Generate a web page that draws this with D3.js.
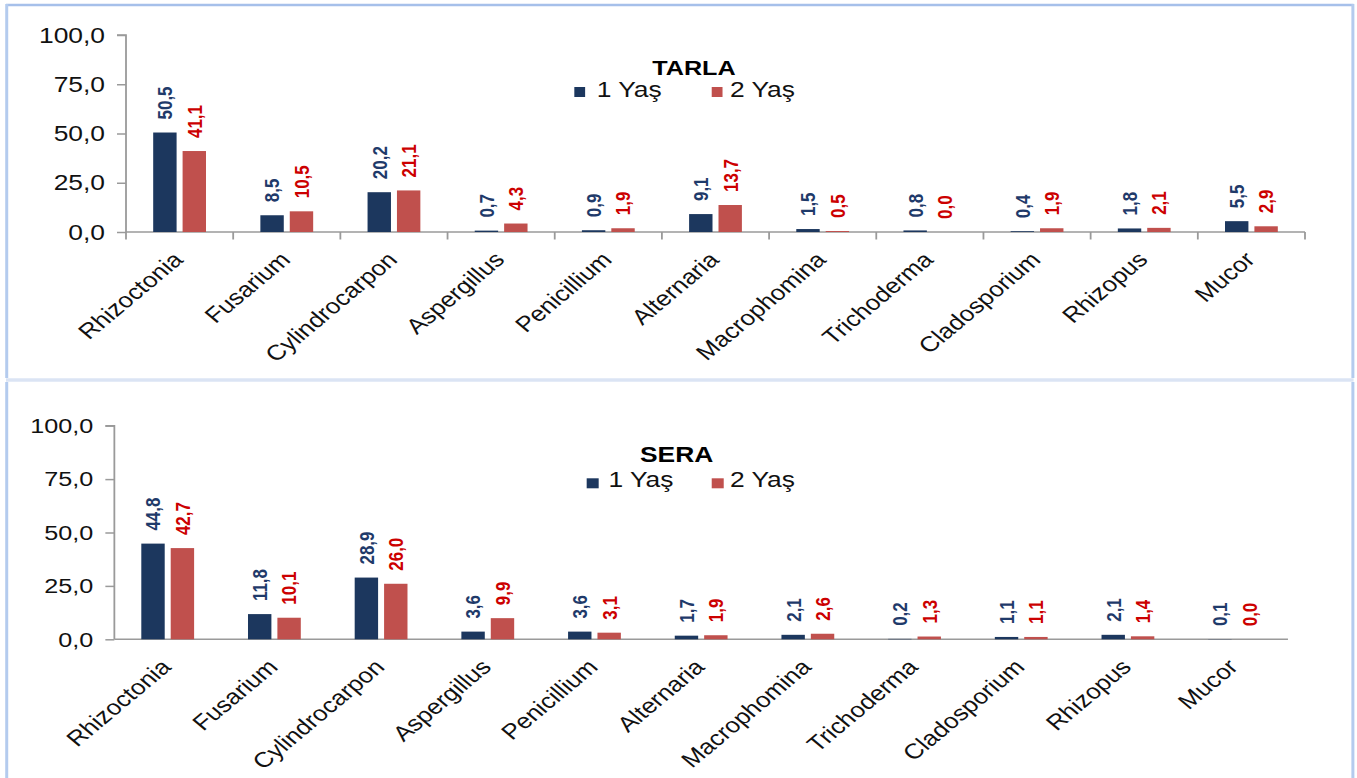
<!DOCTYPE html>
<html>
<head>
<meta charset="utf-8">
<script src="https://cdn.jsdelivr.net/npm/d3@7"></script>
<style>
  html, body { margin: 0; padding: 0; background: #fff; }
  svg { display: block; }
  text { font-family: "Liberation Sans", Arial, sans-serif; }
</style>
</head>
<body>
<svg id="chart"></svg>
<script>
// Fungal isolation frequencies (%) by genus, for 1- and 2-year-old plants
const categories = ["Rhizoctonia", "Fusarium", "Cylindrocarpon", "Aspergillus", "Penicillium",
  "Alternaria", "Macrophomina", "Trichoderma", "Cladosporium", "Rhizopus", "Mucor"];
const seriesNames = ["1 Yaş", "2 Yaş"];
const tarla1 = [50.5, 8.5, 20.2, 0.7, 0.9, 9.1, 1.5, 0.8, 0.4, 1.8, 5.5];
const tarla2 = [41.1, 10.5, 21.1, 4.3, 1.9, 13.7, 0.5, 0.0, 1.9, 2.1, 2.9];
const sera1 = [44.8, 11.8, 28.9, 3.6, 3.6, 1.7, 2.1, 0.2, 1.1, 2.1, 0.1];
const sera2 = [42.7, 10.1, 26.0, 9.9, 3.1, 1.9, 2.6, 1.3, 1.1, 1.4, 0.0];
const yTicks = [0, 25, 50, 75, 100];
const panelTitles = ["TARLA", "SERA"];

// The drawing is laid out in a narrower coordinate space and stretched horizontally.
const W = 1357, H = 778, SX = 1.2, VW = W / SX;
const svg = d3.select("#chart")
  .attr("width", W).attr("height", H)
  .attr("viewBox", `0 0 ${VW} ${H}`)
  .attr("preserveAspectRatio", "none");

const barFill = ["#1c375e", "#c0504d"];
const labelFill = ["#1f3a6a", "#cc0000"];
const fmt = v => d3.format(".1f")(v).replace(".", ",");

// Panel frames
const frame = svg.append("g").attr("fill", "none");
frame.append("line").attr("x1", 5).attr("x2", 1128).attr("y1", 5).attr("y2", 5)
  .attr("stroke", "#a6c0ea").attr("stroke-width", 2.5);
frame.append("line").attr("x1", 5).attr("x2", 1128).attr("y1", 380).attr("y2", 380)
  .attr("stroke", "#dbe4f4").attr("stroke-width", 3.5);
[5.6, 1127.4].forEach(x => {
  frame.append("line").attr("x1", x).attr("x2", x).attr("y1", 4).attr("y2", 378)
    .attr("stroke", "#b4cbee").attr("stroke-width", 2.5);
  frame.append("line").attr("x1", x).attr("x2", x).attr("y1", 382).attr("y2", H)
    .attr("stroke", "#b4cbee").attr("stroke-width", 2.5);
});

const panels = [
  { title: panelTitles[0], data: [tarla1, tarla2], x0: 105, x1: 1087.5, yBase: 232, yTop: 35,
    tickFont: 22, xTicks: true, titleX: 578.3, titleY: 75, titleFont: 21,
    legendY: 87, legendBase: 96.7, legendX: [[478.6, 497.2], [593.1, 608.3]], sw: 9 },
  { title: panelTitles[1], data: [sera1, sera2], x0: 95.3, x1: 1073.3, yBase: 639.3, yTop: 425.7,
    tickFont: 21, xTicks: false, titleX: 563.9, titleY: 461.7, titleFont: 22,
    legendY: 478.3, legendBase: 487.3, legendX: [[488.9, 507], [593.1, 608.3]], sw: 10 }
];

panels.forEach(p => {
  const g = svg.append("g");
  const x = d3.scaleBand().domain(categories).range([p.x0, p.x1]).paddingInner(0).paddingOuter(0);
  const y = d3.scaleLinear().domain([0, 100]).range([p.yBase, p.yTop]);
  const inner = d3.scaleBand().domain(seriesNames).range([-22, 22]).paddingInner(0.204);

  // Y axis
  const yAxis = g.append("g").attr("transform", `translate(${p.x0},0)`)
    .call(d3.axisLeft(y).tickValues(yTicks).tickSize(7.5).tickPadding(10).tickFormat(fmt));
  yAxis.select(".domain").attr("stroke", "#9a9a9a").attr("stroke-width", 1.5)
    .attr("d", `M-7.5,${p.yTop}H0V${p.yBase}`);
  yAxis.selectAll(".tick line").attr("stroke", "#9a9a9a").attr("stroke-width", 1.5);
  yAxis.selectAll(".tick text").attr("font-size", p.tickFont).attr("fill", "#111")
    .attr("font-family", "Liberation Sans, Arial, sans-serif");

  // X axis
  const xAxis = g.append("g").attr("transform", `translate(0,${p.yBase})`)
    .call(d3.axisBottom(x).tickSize(0).tickFormat(""));
  xAxis.select(".domain").attr("stroke", "#9a9a9a").attr("stroke-width", 1.5)
    .attr("d", `M${p.x0},0H${p.x1}`);
  xAxis.selectAll(".tick").remove();
  if (p.xTicks) {
    const bounds = categories.map(c => x(c)).concat([p.x1]);
    xAxis.selectAll("line.sep").data(bounds).join("line").attr("class", "sep")
      .attr("x1", d => d).attr("x2", d => d).attr("y1", 0).attr("y2", 7.5)
      .attr("stroke", "#9a9a9a").attr("stroke-width", 1.5);
  }
  g.selectAll("text.cat").data(categories).join("text").attr("class", "cat")
    .attr("transform", c => `translate(${x(c) + x.bandwidth() / 2 + 4},${p.yBase + 29}) rotate(-45)`)
    .attr("text-anchor", "end").attr("font-size", 21.5).attr("fill", "#111")
    .text(c => c);

  // Bars and value labels
  seriesNames.forEach((s, si) => {
    const vals = p.data[si];
    const rows = categories.map((c, i) => ({ c, v: vals[i] }));
    g.selectAll(`rect.s${si}`).data(rows).join("rect").attr("class", `s${si}`)
      .attr("x", d => x(d.c) + x.bandwidth() / 2 + inner(s))
      .attr("width", inner.bandwidth())
      .attr("y", d => y(d.v))
      .attr("height", d => y(0) - y(d.v))
      .attr("fill", barFill[si]);
    g.selectAll(`text.v${si}`).data(rows).join("text").attr("class", `v${si}`)
      .attr("transform", d => `translate(${x(d.c) + x.bandwidth() / 2 + inner(s) + inner.bandwidth() / 2},${y(d.v) - 13}) rotate(-90)`)
      .attr("dy", "0.36em").attr("text-anchor", "start")
      .attr("font-size", 17).attr("font-weight", "bold").attr("fill", labelFill[si])
      .text(d => fmt(d.v));
  });

  // Title and legend
  g.append("text").attr("x", p.titleX).attr("y", p.titleY).attr("text-anchor", "middle")
    .attr("font-size", p.titleFont).attr("font-weight", "bold").attr("fill", "#000").text(p.title);
  seriesNames.forEach((s, si) => {
    g.append("rect").attr("x", p.legendX[si][0]).attr("y", p.legendY)
      .attr("width", p.sw).attr("height", 10).attr("fill", barFill[si]);
    g.append("text").attr("x", p.legendX[si][1]).attr("y", p.legendBase)
      .attr("font-size", 22).attr("fill", "#111").text(s);
  });
});
</script>
</body>
</html>
